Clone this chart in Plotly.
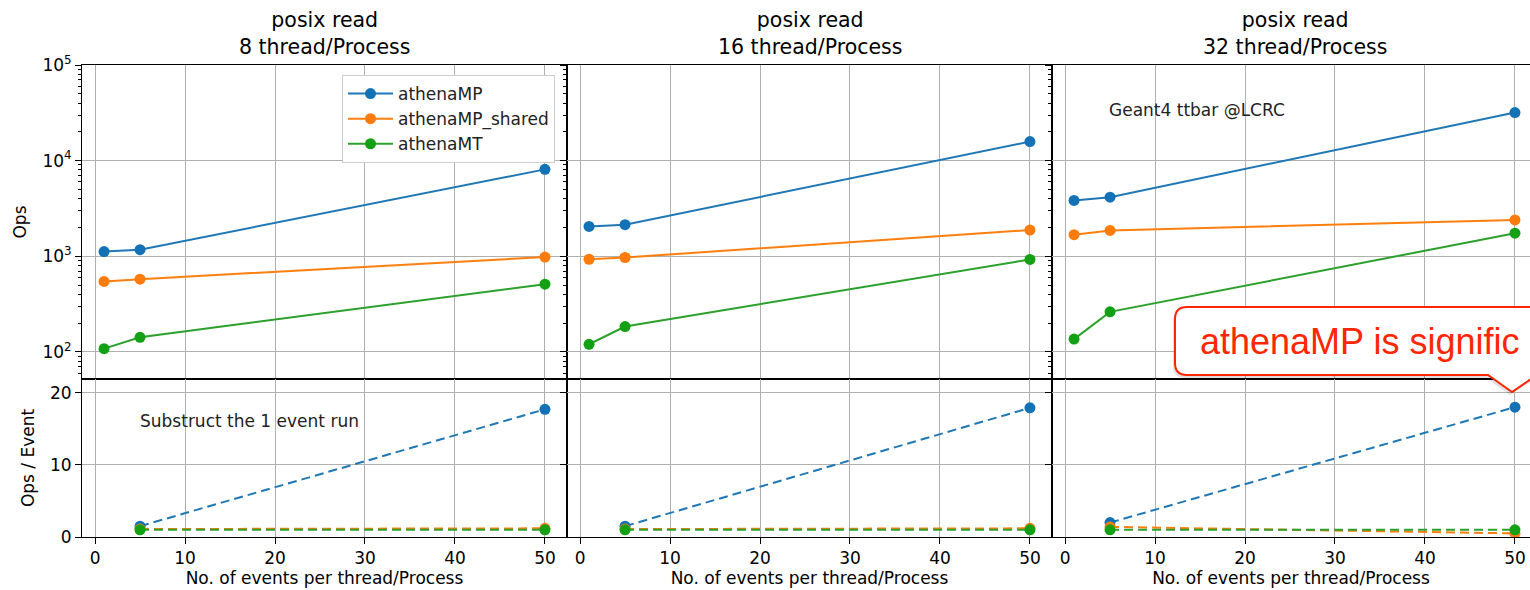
import plotly.graph_objects as go

W, H = 1530, 590

# ---------------- data ----------------
events = [1, 5, 50]
events_sub = [5, 50]
series = ["athenaMP", "athenaMP_shared", "athenaMT"]
colors = ["#1f77b4", "#ff7f0e", "#2ca02c"]
marker_colors = ["#1372b6", "#ff7b0a", "#14a014"]
panel_titles = ["posix read<br>8 thread/Process",
                "posix read<br>16 thread/Process",
                "posix read<br>32 thread/Process"]

# Ops (top row), per panel: 8, 16, 32 thread/Process
ops_8 = {"athenaMP": [1120, 1170, 8100],
         "athenaMP_shared": [545, 575, 980],
         "athenaMT": [108, 142, 510]}
ops_16 = {"athenaMP": [2050, 2140, 15800],
          "athenaMP_shared": [930, 970, 1880],
          "athenaMT": [120, 184, 925]}
ops_32 = {"athenaMP": [3830, 4150, 31800],
          "athenaMP_shared": [1680, 1860, 2400],
          "athenaMT": [136, 262, 1740]}

# Ops / Event after subtracting the 1 event run (bottom row)
ope_8 = {"athenaMP": [1.5, 17.7],
         "athenaMP_shared": [1.1, 1.2],
         "athenaMT": [1.0, 1.0]}
ope_16 = {"athenaMP": [1.5, 17.9],
          "athenaMP_shared": [1.1, 1.2],
          "athenaMT": [1.0, 1.0]}
ope_32 = {"athenaMP": [2.0, 18.0],
          "athenaMP_shared": [1.4, 0.5],
          "athenaMT": [1.0, 1.0]}

log_tickvals = [1e2, 1e3, 1e4, 1e5]
log_ticktext = ["10<sup>2</sup>", "10<sup>3</sup>", "10<sup>4</sup>", "10<sup>5</sup>"]
lin_tickvals = [0, 10, 20]
x_tickvals = [0, 10, 20, 30, 40, 50]

top_data = [ops_8, ops_16, ops_32]
bot_data = [ope_8, ope_16, ope_32]

# ---------------- layout geometry (pixels) ----------------
FONT = "DejaVu Sans"
panel_px = [(82, 567), (567, 1052), (1052, 1530)]
full_w = 485
xr0, xspan = -1.45, 53.9
top_px = (65, 379)
bot_px = (379, 537)


def px(x):
    return x / W


def py(y):
    return 1 - y / H


fig = go.Figure()

for p in range(3):
    top_ax = 2 * p + 1
    bot_ax = 2 * p + 2
    xa_t = "x" if top_ax == 1 else f"x{top_ax}"
    ya_t = "y" if top_ax == 1 else f"y{top_ax}"
    xa_b = f"x{bot_ax}"
    ya_b = f"y{bot_ax}"
    for s, c, mc in zip(series, colors, marker_colors):
        fig.add_trace(go.Scatter(
            x=events, y=top_data[p][s], mode="lines+markers", name=s,
            line=dict(color=c, width=2), marker=dict(color=mc, size=11),
            xaxis=xa_t, yaxis=ya_t, showlegend=(p == 0), legendgroup=s))
    for s, c, mc in zip(series, colors, marker_colors):
        fig.add_trace(go.Scatter(
            x=events_sub, y=bot_data[p][s], mode="lines+markers", name=s,
            line=dict(color=c, width=2, dash="9px,5px"), marker=dict(color=mc, size=11),
            xaxis=xa_b, yaxis=ya_b, showlegend=False, legendgroup=s))

layout = {}
common_axis = dict(showline=True, linecolor="black", linewidth=1, mirror=True,
                   showgrid=True, gridcolor="#b0b0b0", gridwidth=1, zeroline=False,
                   automargin=False,
                   tickfont=dict(family=FONT, size=17, color="black"),
                   tickcolor="black", ticklen=6, ticks="outside")

for p in range(3):
    x0, x1 = panel_px[p]
    xend = xr0 + xspan * (x1 - x0) / full_w
    top_ax = 2 * p + 1
    bot_ax = 2 * p + 2
    kt = "" if top_ax == 1 else str(top_ax)
    kb = str(bot_ax)
    # top x axis
    layout[f"xaxis{kt}"] = dict(common_axis, domain=[px(x0), px(x1)], range=[xr0, xend],
                                anchor=f"y{kt}", tickvals=x_tickvals, showticklabels=False,
                                ticks="")
    # top y axis (log)
    layout[f"yaxis{kt}"] = dict(common_axis, type="log", domain=[py(top_px[1]), py(top_px[0])],
                                range=[1.716, 5], anchor=f"x{kt}",
                                tickvals=log_tickvals, ticktext=log_ticktext,
                                showticklabels=(p == 0),
                                minor=dict(ticks="outside", ticklen=3, tickcolor="black",
                                           dtick="D1", showgrid=False))
    # bottom x axis
    layout[f"xaxis{kb}"] = dict(common_axis, domain=[px(x0), px(x1)], range=[xr0, xend],
                                anchor=f"y{kb}", tickvals=x_tickvals,
                                title=dict(text="No. of events per thread/Process",
                                           font=dict(family=FONT, size=17, color="black"),
                                           standoff=4))
    # bottom y axis (linear)
    layout[f"yaxis{kb}"] = dict(common_axis, domain=[py(bot_px[1]), py(bot_px[0])],
                                range=[0, 21.9], anchor=f"x{kb}",
                                tickvals=lin_tickvals, showticklabels=(p == 0))

layout["yaxis"]["title"] = dict(text="Ops", font=dict(family=FONT, size=17, color="black"),
                                standoff=11)
layout["yaxis2"]["title"] = dict(text="Ops / Event", font=dict(family=FONT, size=17, color="black"),
                                 standoff=11)

fig.update_layout(**layout)

annotations = []
for p in range(3):
    x0, x1 = panel_px[p]
    cx = x0 + full_w / 2
    annotations.append(dict(text=panel_titles[p], xref="paper", yref="paper",
                            x=px(cx), y=py(34), xanchor="center", yanchor="middle",
                            showarrow=False,
                            font=dict(family=FONT, size=20.5, color="black")))

annotations.append(dict(text="Geant4 ttbar @LCRC", xref="paper", yref="paper",
                        x=px(1107), y=py(110), xanchor="left", yanchor="middle",
                        showarrow=False, font=dict(family=FONT, size=17, color="#222222")))
annotations.append(dict(text="Substruct the 1 event run", xref="paper", yref="paper",
                        x=px(138), y=py(421), xanchor="left", yanchor="middle",
                        showarrow=False, font=dict(family=FONT, size=17, color="#222222")))
annotations.append(dict(text="athenaMP is signific", xref="paper", yref="paper",
                        x=px(1198), y=py(341), xanchor="left", yanchor="middle",
                        showarrow=False,
                        font=dict(family="Liberation Sans", size=36, color="#ff2600")))


def callout_path(dx=0, dy=0):
    l, t, r, b, rad = 1175 + dx, 307 + dy, 1600 + dx, 375 + dy, 12
    pts = [
        f"M {px(l + rad)} {py(t)}",
        f"L {px(r)} {py(t)}",
        f"L {px(r)} {py(b)}",
        f"L {px(1537 + dx)} {py(b)}",
        f"L {px(1512 + dx)} {py(392 + dy)}",
        f"L {px(1488 + dx)} {py(b)}",
        f"L {px(l + rad)} {py(b)}",
        f"Q {px(l)} {py(b)} {px(l)} {py(b - rad)}",
        f"L {px(l)} {py(t + rad)}",
        f"Q {px(l)} {py(t)} {px(l + rad)} {py(t)}",
        "Z",
    ]
    return " ".join(pts)


shapes = [
    dict(type="path", xref="paper", yref="paper", path=callout_path(-2, 3),
         fillcolor="rgba(0,0,0,0.12)", line=dict(width=0), layer="above"),
    dict(type="path", xref="paper", yref="paper", path=callout_path(),
         fillcolor="white", line=dict(color="#ff2600", width=2), layer="above"),
]

fig.update_layout(
    width=W, height=H,
    margin=dict(l=0, r=0, t=0, b=0, autoexpand=False),
    paper_bgcolor="white", plot_bgcolor="white",
    annotations=annotations, shapes=shapes,
    showlegend=True,
    legend=dict(x=px(342), y=py(75), xanchor="left", yanchor="top",
                bgcolor="white", bordercolor="#cccccc", borderwidth=1,
                font=dict(family=FONT, size=17, color="#222222"),
                itemwidth=45, tracegroupgap=0),
)

fig.write_html("out.html", config={"displayModeBar": False},
               post_script="document.body.style.margin='0';document.body.style.overflow='hidden';")
